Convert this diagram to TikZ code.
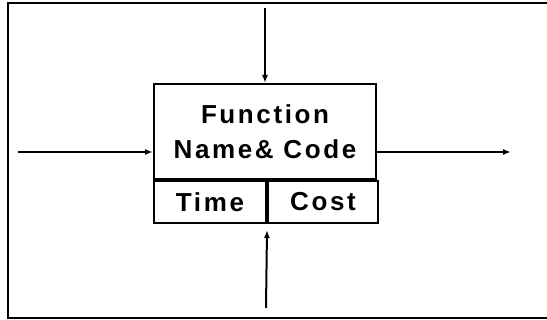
\documentclass[tikz,border=0pt]{standalone}
\usepackage{fontspec}
\setmainfont{Liberation Sans}
\newfontfamily\boxfont[LetterSpace=10]{Liberation Sans}
\usetikzlibrary{
  arrows.meta,
  calc,
  positioning,
}
\tikzstyle{flow} = [
  -{Latex[length=8pt,width=6pt]},
  line width=2pt,
]
\tikzstyle{cell} = [
  rectangle,
  draw,
  line width=2pt,
  inner sep=0pt,
  font=\boxfont\bfseries\fontsize{26}{35}\selectfont,
  align=center,
]

\begin{document}
\begin{tikzpicture}[x=1pt, y=-1pt]
    \useasboundingbox (0,0) rectangle (547,320);
    % open frame round the block
    \draw[line width=1.8pt] (547,3) -- (8,3) -- (8,318) -- (547,318);
    % the function block and its two fields
    \node[cell, minimum width=222pt, minimum height=95pt] (func) at (265,131.5) {Function\\Name\& Code};
    \node[cell, minimum width=112pt, minimum height=42pt, anchor=north west] (time) at (func.south west) {Time};
    \node[cell, minimum width=110pt, minimum height=42pt, anchor=north west] (cost) at (time.north east) {Cost};
    % inputs and outputs
    \coordinate (ctrl) at (265,8);
    \coordinate (in) at (18,152);
    \coordinate (out) at (511,152);
    \coordinate (mech) at (266,308);
    \draw[flow] (ctrl) -- (func.north);
    \draw[flow] (in) -- (in -| func.west);
    \draw[flow] (out -| func.east) -- (out);
    \draw[flow] (mech) -- ($(time.south east)+(0,6)$);
\end{tikzpicture}
\end{document}
